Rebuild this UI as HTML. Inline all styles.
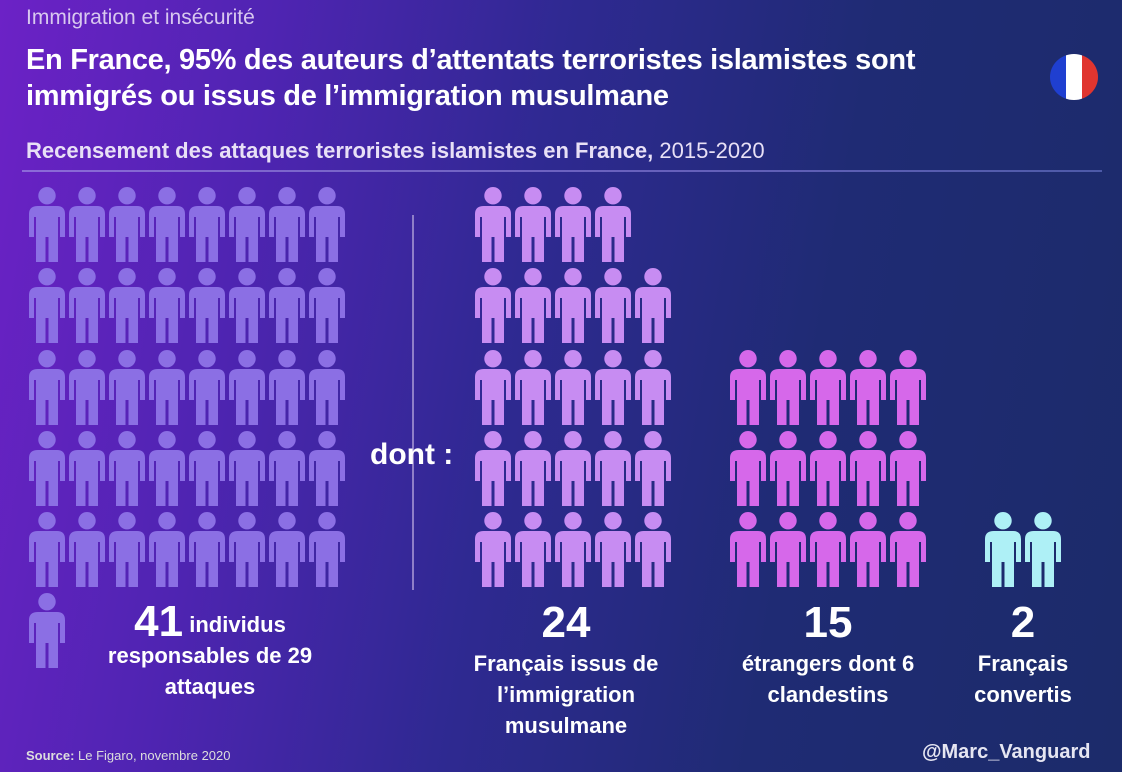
<!DOCTYPE html>
<html><head><meta charset="utf-8"><style>
body{margin:0;width:1122px;height:772px;overflow:hidden;font-family:"Liberation Sans",sans-serif;color:#fff;
background:linear-gradient(100deg,#6c22c6 0%,#4f24b2 22%,#2f2992 45%,#1f2b74 70%,#1c2b6a 100%);position:relative}
.t{position:absolute;white-space:nowrap}
svg{position:absolute;left:0;top:0}
</style></head><body>
<div class="t" style="left:26px;top:6px;font-size:21px;color:#d8c8ef">Immigration et insécurité</div>
<div class="t" style="left:26px;top:42px;font-size:29px;font-weight:bold;line-height:36px;letter-spacing:-0.3px">En France, 95% des auteurs d’attentats terroristes islamistes sont<br>immigrés ou issus de l’immigration musulmane</div>
<div class="t" style="left:26px;top:138px;font-size:22px;font-weight:bold;color:#e8e0f6">Recensement des attaques terroristes islamistes en France, <span style="font-weight:normal">2015-2020</span></div>
<div style="position:absolute;left:22px;top:170px;width:1080px;height:2px;background:linear-gradient(90deg,#8c6ad8,#4d5aa8)"></div>
<div style="position:absolute;left:1050px;top:54px;width:48px;height:46px;border-radius:50%;background:linear-gradient(90deg,#1f3fd0 0 33%,#fff 33% 67%,#e0352f 67%)"></div>
<div style="position:absolute;left:412px;top:215px;width:2px;height:375px;background:#8f7fc8"></div>
<svg width="1122" height="772">
<defs><path id="p" d="M10 19H29Q37 19 37 27V50H32V30H30V75H20.5V50H17.5V75H8V30H6V50H1V27Q1 19 10 19ZM19 0A8.7 8.7 0 1 1 18.99 0Z"/></defs>
<g fill="#8b6fe4" id="L"></g>
<g fill="#c78cf2" id="M"></g>
<g fill="#d668ea" id="R"></g>
<g fill="#aef0f6" id="C"></g>
</svg>
<div class="t" style="left:370px;top:438px;font-size:30px;font-weight:bold">dont :</div>
<div class="t" style="left:80px;top:606px;width:260px;text-align:center;font-size:22px;font-weight:bold;line-height:31px"><span style="font-size:44px;vertical-align:-4px">41</span> individus<br>responsables de 29<br>attaques</div>
<div class="t" style="left:446px;top:598px;width:240px;text-align:center;font-size:22px;font-weight:bold;line-height:31px"><span style="font-size:44px;line-height:50px">24</span><br>Français issus de<br>l’immigration<br>musulmane</div>
<div class="t" style="left:708px;top:598px;width:240px;text-align:center;font-size:22px;font-weight:bold;line-height:31px"><span style="font-size:44px;line-height:50px">15</span><br>étrangers dont 6<br>clandestins</div>
<div class="t" style="left:943px;top:598px;width:160px;text-align:center;font-size:22px;font-weight:bold;line-height:31px"><span style="font-size:44px;line-height:50px">2</span><br>Français<br>convertis</div>
<div class="t" style="left:26px;top:748px;font-size:13px;color:#ddd"><b>Source:</b> Le Figaro, novembre 2020</div>
<div class="t" style="left:922px;top:741px;font-size:20px;font-weight:bold;color:#e6e6f2">@Marc_Vanguard</div>
<script>
function add(g,x,y){var u=document.createElementNS("http://www.w3.org/2000/svg","use");u.setAttribute("href","#p");u.setAttribute("x",x);u.setAttribute("y",y);document.getElementById(g).appendChild(u);}
var rows=[187,268,350,431,512];
for(var r=0;r<5;r++)for(var c=0;c<8;c++)add("L",28+c*40,rows[r]);
add("L",28,593);
for(var c=0;c<4;c++)add("M",474+c*40,187);
for(var r=1;r<5;r++)for(var c=0;c<5;c++)add("M",474+c*40,rows[r]);
for(var r=2;r<5;r++)for(var c=0;c<5;c++)add("R",729+c*40,rows[r]);
add("C",984,512);add("C",1024,512);
</script>
</body></html>
